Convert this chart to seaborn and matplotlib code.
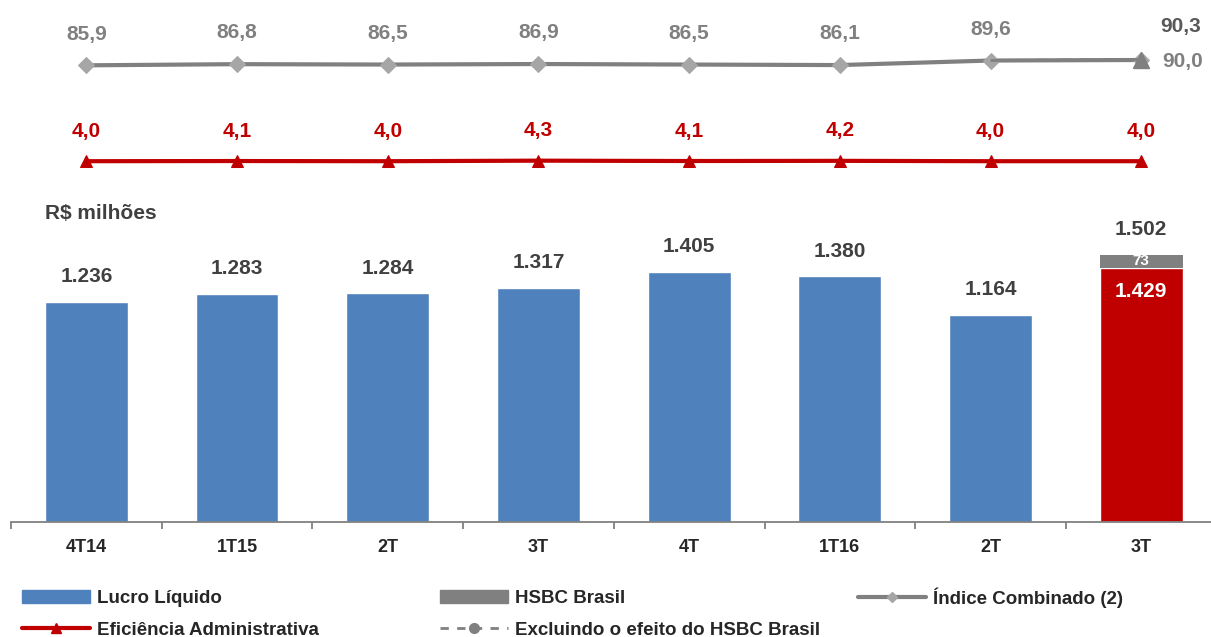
import numpy as np
import pandas as pd
import matplotlib
matplotlib.use("Agg")
import matplotlib.pyplot as plt
from matplotlib.lines import Line2D
from matplotlib.patches import Patch
import seaborn as sns

# ---- data ----
quarters = ["4T14", "1T15", "2T", "3T", "4T", "1T16", "2T", "3T"]
lucro = [1236, 1283, 1284, 1317, 1405, 1380, 1164, 1429]
hsbc = [0, 0, 0, 0, 0, 0, 0, 73]
indice = [85.9, 86.8, 86.5, 86.9, 86.5, 86.1, 89.6, 90.0]
indice_ex_hsbc = [89.6, 90.3]          # last two quarters, excluding HSBC Brasil
eficiencia = [4.0, 4.1, 4.0, 4.3, 4.1, 4.2, 4.0, 4.0]

BLUE = "#4F81BD"
RED = "#C00000"
GREY = "#808080"
LIGHT_GREY = "#A6A6A6"
TEXT_DARK = "#404040"

sns.set_theme(style="white")
plt.rcParams["font.family"] = ["Liberation Sans", "DejaVu Sans"]
plt.rcParams["font.weight"] = "bold"

W, H = 1211, 637
fig = plt.figure(figsize=(W / 100, H / 100), dpi=100)

def px_axes(x0, y_top, x1, y_bot):
    return fig.add_axes([x0 / W, 1 - y_bot / H, (x1 - x0) / W, (y_bot - y_top) / H])

def comma(v):
    return f"{v:.1f}".replace(".", ",")

X0, X1 = 11.0, 11.0 + 8 * 150.7
pos = np.arange(len(quarters))

# ---- bars ----
ax = px_axes(X0, 200, X1, 522)
df = pd.DataFrame({"pos": pos, "lucro": lucro})
bar_colors = [BLUE] * 7 + [RED]
sns.barplot(data=df, x="pos", y="lucro", hue="pos", palette=bar_colors,
            width=0.55, legend=False, ax=ax, saturation=1, order=list(pos))
ax.bar(pos, hsbc, bottom=lucro, width=0.55, color=GREY, linewidth=0)
ax.set_xlim(-0.5, 7.5)
ax.set_ylim(0, 322 / 0.178)
ax.set_xticks(pos)
ax.set_xticklabels(quarters, fontsize=13, fontweight="bold", color="#262626")
ax.set_xticks(np.arange(-0.5, 7.6, 1.0), minor=True)
ax.tick_params(axis="x", which="major", bottom=False, length=0, pad=12)
ax.tick_params(axis="x", which="minor", bottom=True, length=5, color=GREY, width=1.3)
ax.set_yticks([])
ax.set_xlabel("")
ax.set_ylabel("")
for s in ["top", "right", "left"]:
    ax.spines[s].set_visible(False)
ax.spines["bottom"].set_color(GREY)
ax.spines["bottom"].set_linewidth(1.3)

for i, (v, h) in enumerate(zip(lucro, hsbc)):
    total = v + h
    ax.annotate(f"{total / 1000:.3f}", (i, total), xytext=(0, 18), textcoords="offset points",
                ha="center", va="center", fontsize=15, fontweight="bold", color=TEXT_DARK)
    if h:
        ax.annotate(f"{h}", (i, v + h / 2), ha="center", va="center",
                    fontsize=11, fontweight="bold", color="white")
        ax.annotate(f"{v / 1000:.3f}", (i, v), xytext=(0, -17), textcoords="offset points",
                    ha="center", va="center", fontsize=15, fontweight="bold", color="white")

fig.text(45 / W, 1 - 213 / H, "R$ milhões", ha="left", va="center",
         fontsize=15, fontweight="bold", color=TEXT_DARK)

# ---- índice combinado ----
ax_i = px_axes(X0, 20, X1, 100)
ax_i.set_xlim(-0.5, 7.5)
# 80 px tall, about 1.3 px per point
ax_i.set_ylim(90.0 - 40 / 1.3, 90.0 + 40 / 1.3)
sns.lineplot(x=pos, y=indice, ax=ax_i, color=GREY, lw=3, marker="D", markersize=8,
             markerfacecolor=LIGHT_GREY, markeredgecolor=LIGHT_GREY, sort=False)
sns.lineplot(x=pos[-2:], y=indice_ex_hsbc, ax=ax_i, color=GREY, lw=2, dashes=(5, 3),
             sort=False)
ax_i.plot(pos[-1], indice_ex_hsbc[-1], marker="^", markersize=12, color=GREY, ls="none")
for i, v in enumerate(indice[:-1]):
    ax_i.annotate(comma(v), (i, v), xytext=(0, 22.5), textcoords="offset points",
                  ha="center", va="center", fontsize=15, fontweight="bold", color=GREY)
ax_i.annotate(comma(indice[-1]), (7, indice[-1]), xytext=(15, -1),
              textcoords="offset points", ha="left", va="center",
              fontsize=15, fontweight="bold", color=GREY)
ax_i.annotate(comma(indice_ex_hsbc[-1]), (7, indice_ex_hsbc[-1]),
              xytext=(14, 24), textcoords="offset points", ha="left", va="center",
              fontsize=15, fontweight="bold", color="#595959")
ax_i.axis("off")

# ---- eficiência administrativa ----
ax_e = px_axes(X0, 100, X1, 190)
ax_e.set_xlim(-0.5, 7.5)
ax_e.set_ylim(-12, 38)
sns.lineplot(x=pos, y=eficiencia, ax=ax_e, color=RED, lw=3, marker="^", markersize=9,
             markeredgecolor=RED, markerfacecolor=RED, sort=False)
for i, v in enumerate(eficiencia):
    ax_e.annotate(comma(v), (i, v), xytext=(0, 21.5), textcoords="offset points",
                  ha="center", va="center", fontsize=15, fontweight="bold", color=RED)
ax_e.axis("off")

# ---- legend: three fixed columns ----
h_lucro = Patch(color=BLUE, label="Lucro Líquido")
h_efic = Line2D([], [], color=RED, lw=3, marker="^", markersize=7, label="Eficiência Administrativa")
h_hsbc = Patch(color=GREY, label="HSBC Brasil")
h_excl = Line2D([], [], color=GREY, lw=2, ls=(0, (3, 3)), marker="o", markersize=7,
                markerfacecolor=GREY, label="Excluindo o efeito do HSBC Brasil")
h_ind = Line2D([], [], color=GREY, lw=3, marker="D", markersize=5,
               markerfacecolor=LIGHT_GREY, markeredgecolor=LIGHT_GREY,
               label="Índice Combinado (2)")

for x_px, y_px, hs in [(22, 590, [h_lucro, h_efic]), (440, 590, [h_hsbc, h_excl]),
                       (858, 587, [h_ind])]:
    leg = fig.legend(handles=hs, ncol=1, loc="upper left",
                     bbox_to_anchor=(x_px / W, 1 - y_px / H), frameon=False,
                     fontsize=13.5, handlelength=3.6, handleheight=0.7, handletextpad=0.4,
                     labelspacing=0.78, borderpad=0, borderaxespad=0)
    for t in leg.get_texts():
        t.set_fontweight("bold")
        t.set_color("#262626")

fig.savefig("out.png", dpi=100)
